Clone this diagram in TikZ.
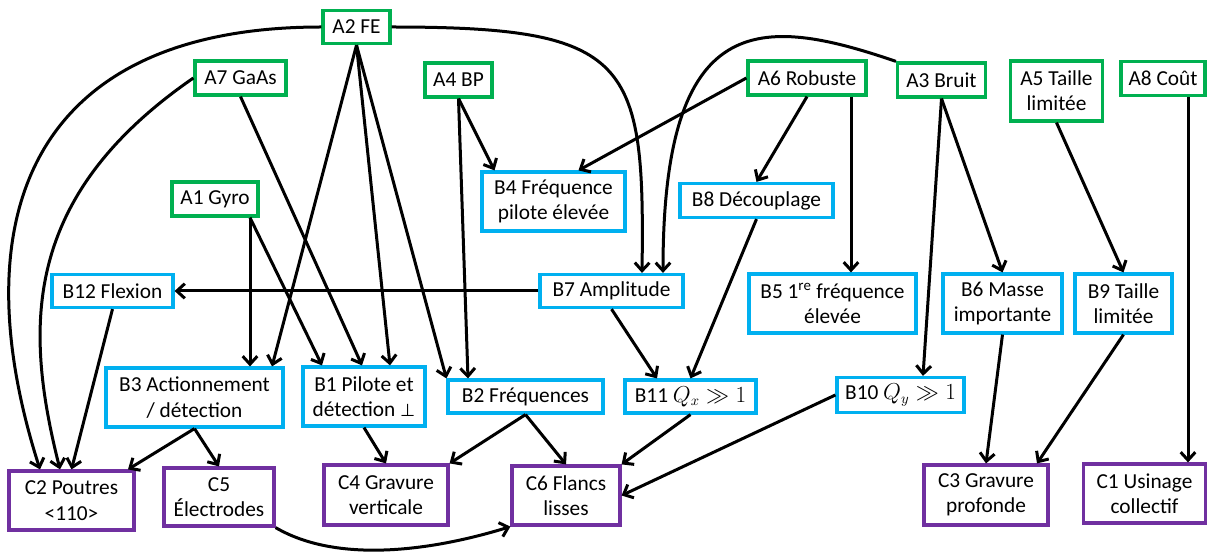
\documentclass[tikz,border=0pt]{standalone}
\usepackage{fontspec}
\setmainfont{Carlito}
\newfontfamily\symfont{DejaVu Sans}
\usetikzlibrary{arrows.meta,calc}
\definecolor{cgreen}{HTML}{00B050}
\definecolor{cblue}{HTML}{00B0F0}
\definecolor{cpurple}{HTML}{7030A0}
\tikzset{
  box/.style={draw, line width=2.4pt, inner sep=0pt, align=center,
    font=\fontsize{16}{19}\selectfont},
  ga/.style={box, draw=cgreen},
  bb/.style={box, draw=cblue},
  cc/.style={box, draw=cpurple},
  sz/.style 2 args={minimum width=#1*0.75pt, minimum height=#2*0.75pt},
  arr/.style={line width=2.25pt, -{Straight Barb[length=6pt,width=11pt]}}
}
\begin{document}
\begin{tikzpicture}[x=0.75pt,y=-0.75pt]
\useasboundingbox (0,0) rectangle (1207,559);
% A nodes
\node[ga, sz={67}{33}] (A2) at (356.5,27) {A2 FE};
\node[ga, sz={91}{34}] (A7) at (240.5,78) {A7 GaAs};
\node[ga, sz={86}{34}] (A1) at (215,199) {A1 Gyro};
\node[ga, sz={67}{34}] (A4) at (458.5,80) {A4 BP};
\node[ga, sz={118}{34}] (A6) at (807,78) {A6 Robuste};
\node[ga, sz={88}{34}] (A3) at (941.5,80) {A3 Bruit};
\node[ga, sz={92}{60}] (A5) at (1056.5,91) {A5 Taille\\limitée};
\node[ga, sz={84}{34}] (A8) at (1163,78.5) {A8 Coût};
% B nodes
\node[bb, sz={143}{59}] (B4) at (553.5,201.5) {B4 Fréquence\\pilote élevée};
\node[bb, sz={153}{34}] (B8) at (756.5,200.5) {B8 Découplage};
\node[bb, sz={121}{33}] (B12) at (112.5,291) {B12 Flexion};
\node[bb, sz={143}{33}] (B7) at (611.5,291) {B7 Amplitude};
\node[bb, sz={167}{59}] (B5) at (832.5,303.5) {B5 1\textsuperscript{re} fréquence\\élevée};
\node[bb, sz={119}{59}] (B6) at (1002.5,303.5) {B6 Masse\\importante};
\node[bb, sz={97}{59}] (B9) at (1123.5,303.5) {B9 Taille\\limitée};
\node[bb, sz={177}{59}] (B3) at (194.5,397.5) {B3 Actionnement\\/ détection};
\node[bb, sz={122}{59}] (B1) at (364,396.5) {B1 Pilote et\\détection {\symfont\fontsize{13}{19}\selectfont ⊥}};
\node[bb, sz={155}{33}] (B2) at (525.5,396.5) {B2 Fréquences};
\node[bb, sz={131}{33}] (B11) at (690.5,396.5) {B11 $Q_x \gg 1$};
\node[bb, sz={127}{35}] (B10) at (900.5,395) {B10 $Q_y \gg 1$};
% C nodes
\node[cc, sz={125}{59}] (C2) at (71.5,500.5) {C2 Poutres\\<110>};
\node[cc, sz={110}{58}] (C5) at (219,497) {C5\\Électrodes};
\node[cc, sz={124}{60}] (C4) at (386,495) {C4 Gravure\\verticale};
\node[cc, sz={108}{59}] (C6) at (566,495.5) {C6 Flancs\\lisses};
\node[cc, sz={124}{60}] (C3) at (986,495) {C3 Gravure\\profonde};
\node[cc, sz={122}{59}] (C1) at (1144.5,493.5) {C1 Usinage\\collectif};
% straight connectors
\draw[arr] (A2.south) -- ($(B3.north)+(77.5,0)$);
\draw[arr] (A2.south) -- ($(B1.north)+(26,0)$);
\draw[arr] (A2.south) -- (B2.north west);
\draw[arr] ($(A1.south)+(35,0)$) -- ($(B3.north)+(55.5,0)$);
\draw[arr] ($(A1.south)+(35,0)$) -- ($(B1.north)+(-42,0)$);
\draw[arr] (A7.south) -- ($(B1.north)+(-2,0)$);
\draw[arr] (A4.south) -- ($(B4.north)+(-59,0)$);
\draw[arr] (A4.south) -- ($(B2.north)+(-57.5,0)$);
\draw[arr] (A6.west) -- ($(B4.north)+(25,0)$);
\draw[arr] (A6.south) -- (B8.north);
\draw[arr] ($(A6.south)+(44,0)$) -- ($(B5.north)+(18.5,0)$);
\draw[arr] (A3.south) -- (B6.north);
\draw[arr] (A3.south) -- ($(B10.north)+(22.5,0)$);
\draw[arr] (A5.south) -- (B9.north);
\draw[arr] ($(A8.south)+(25,0)$) -- ($(C1.north)+(43.5,0)$);
\draw[arr] (B7.west) -- (B12.east);
\draw[arr] (B7.south) -- ($(B11.north)+(-33.5,0)$);
\draw[arr] (B8.south) -- (B11.north);
\draw[arr] (B12.south) -- (C2.north);
\draw[arr] (B3.south) -- ($(C2.north)+(56.5,0)$);
\draw[arr] (B3.south) -- (C5.north);
\draw[arr] (B1.south) -- (C4.north);
\draw[arr] (B2.south) -- (C4.north east);
\draw[arr] (B2.south) -- (C6.north);
\draw[arr] (B11.south) -- (C6.north east);
\draw[arr] (B10.west) -- (C6.east);
\draw[arr] (B6.south) -- (C3.north);
\draw[arr] (B9.south) -- ($(C3.north)+(51,0)$);
% curved connectors
\draw[arr] (A2.west) .. controls +(-292,0) and +(-80,-250) .. ($(C2.north)+(-31.5,0)$);
\draw[arr] (A7.west) .. controls +(-174,120) and +(-35,-139) .. ($(C2.north)+(-11.5,0)$);
\draw[arr] (A2.east) .. controls +(239,0) and +(3,-213) .. ($(B7.north)+(30.5,0)$);
\draw[arr] (A3.north west) .. controls +(-137,-47) and +(0,-263) .. ($(B7.north)+(51.5,0)$);
\draw[arr] (C5.south east) .. controls +(65,38) and +(-71,22) .. (C6.south west);
\end{tikzpicture}
\end{document}
